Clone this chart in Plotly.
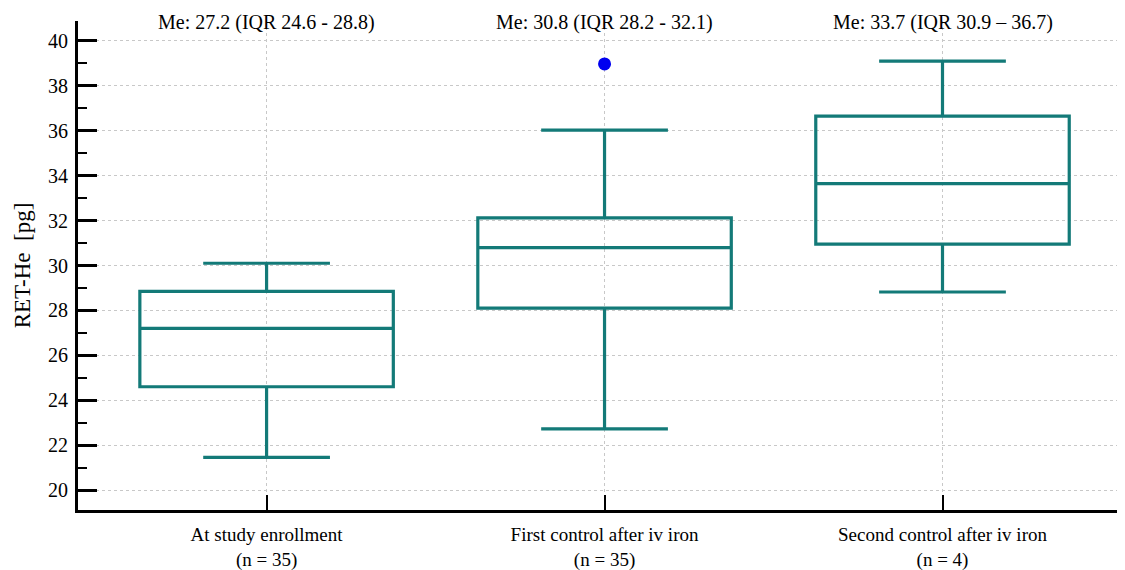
import plotly.graph_objects as go

categories = ["At study enrollment<br>(n = 35)", "First control after iv iron<br>(n = 35)", "Second control after iv iron<br>(n = 4)"]
q1 = [24.6, 28.1, 30.95]
median = [27.2, 30.8, 33.65]
q3 = [28.85, 32.12, 36.65]
lower_whisker = [21.45, 22.72, 28.82]
upper_whisker = [30.1, 36.03, 39.1]
outlier_x = [1]
outlier_y = [38.98]
annot_texts = ["Me: 27.2 (IQR 24.6 - 28.8)", "Me: 30.8 (IQR 28.2 - 32.1)", "Me: 33.7 (IQR 30.9 \u2013 36.7)"]
y_ticks = [20, 22, 24, 26, 28, 30, 32, 34, 36, 38, 40]

TEAL = "#137A78"
FONT = "Liberation Serif"

xpos = list(range(len(categories)))

fig = go.Figure()
fig.add_trace(go.Box(
    x=xpos, q1=q1, median=median, q3=q3,
    lowerfence=lower_whisker, upperfence=upper_whisker,
    width=0.75, whiskerwidth=0.5,
    line=dict(color=TEAL, width=3.2),
    fillcolor="rgba(0,0,0,0)",
    boxpoints=False, showlegend=False, hoverinfo="skip",
))
fig.add_trace(go.Scatter(
    x=outlier_x, y=outlier_y, mode="markers",
    marker=dict(color="#0000F0", size=13),
    showlegend=False, hoverinfo="skip",
))

for i, t in enumerate(annot_texts):
    fig.add_annotation(x=xpos[i], y=1.0, xref="x", yref="paper",
                       text=t, showarrow=False, yanchor="middle", yshift=-1,
                       font=dict(family=FONT, size=20, color="black"))

# page body has an 8px default margin: figure is sized to fit the 1125x570 window
fig.update_layout(
    width=1117, height=562,
    margin=dict(l=70, r=0, t=13, b=60),
    plot_bgcolor="white", paper_bgcolor="white",
    font=dict(family=FONT, size=20, color="black"),
)
fig.update_xaxes(
    range=[-0.558, 2.54],
    tickvals=xpos, ticktext=categories,
    ticks="inside", ticklen=15, tickwidth=2, tickcolor="black",
    showline=True, linewidth=3, linecolor="black",
    showgrid=True, gridcolor="#c8c8c8", griddash="dot", gridwidth=1,
    zeroline=False, tickfont=dict(family=FONT, size=19),
    automargin=False, ticklabelstandoff=5,
)
fig.update_yaxes(
    range=[19.11, 40.89],
    tickvals=y_ticks,
    ticks="inside", ticklen=19, tickwidth=3, tickcolor="black",
    minor=dict(dtick=1, tick0=0, ticks="inside", ticklen=9, tickwidth=2, tickcolor="black", showgrid=False),
    showline=True, linewidth=3, linecolor="black",
    showgrid=True, gridcolor="#c8c8c8", griddash="dot", gridwidth=1,
    zeroline=False, tickfont=dict(family=FONT, size=20),
    automargin=False, ticklabelstandoff=3,
    title=dict(text="RET-He  [pg]", font=dict(family=FONT, size=23), standoff=11),
)

fig.write_html("out.html")
